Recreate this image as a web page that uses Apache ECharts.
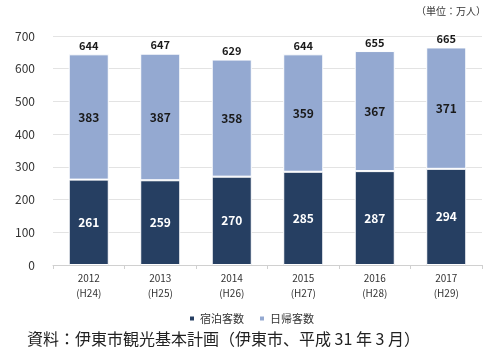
<!DOCTYPE html>
<html>
<head>
<meta charset="utf-8">
<script src="https://cdn.jsdelivr.net/npm/echarts@6/dist/echarts.min.js"></script>
<style>
  html, body { margin: 0; padding: 0; background: #fff; }
  #chart { width: 502px; height: 354px; }
</style>
</head>
<body>
<div id="chart"></div>
<script>
  const years = ['2012\n(H24)', '2013\n(H25)', '2014\n(H26)', '2015\n(H27)', '2016\n(H28)', '2017\n(H29)'];
  const stayGuests = [261, 259, 270, 285, 287, 294];
  const dayGuests = [383, 387, 358, 359, 367, 371];
  const totals = [644, 647, 629, 644, 655, 665];

  const font = '"Noto Sans CJK JP", "Noto Sans", sans-serif';
  const chart = echarts.init(document.getElementById('chart'));
  chart.setOption({
    animation: false,
    textStyle: { fontFamily: font },
    grid: { left: 53, right: 20, top: 36, bottom: 89 },
    graphic: [{
      type: 'text',
      right: 16,
      top: 6,
      style: { text: '（単位：万人）', fontSize: 10, fill: '#333', fontFamily: font }
    }, {
      type: 'text',
      left: 27,
      top: 331,
      style: { text: '資料：伊東市観光基本計画（伊東市、平成 31 年 3 月）', fontSize: 16, fill: '#222', fontFamily: font }
    }],
    legend: {
      bottom: 25,
      left: 'center',
      itemWidth: 6,
      itemHeight: 6,
      itemGap: 14,
      icon: 'rect',
      textStyle: { fontSize: 11, color: '#333' },
      data: ['宿泊客数', '日帰客数']
    },
    xAxis: {
      type: 'category',
      data: years,
      axisLine: { lineStyle: { color: '#d0d0d0' } },
      axisTick: { show: true, length: 4, lineStyle: { color: '#d0d0d0' } },
      axisLabel: { fontSize: 10, color: '#333', lineHeight: 15, margin: 6 }
    },
    yAxis: {
      type: 'value',
      min: 0,
      max: 700,
      interval: 100,
      axisLine: { show: false },
      axisTick: { show: false },
      splitLine: { lineStyle: { color: '#e3e3e3' } },
      axisLabel: { fontSize: 12, color: '#333', margin: 18 }
    },
    series: [{
      name: '宿泊客数',
      type: 'bar',
      stack: 'all',
      barWidth: '56%',
      data: stayGuests,
      itemStyle: { color: '#263f62', borderColor: '#fff', borderWidth: 1 },
      label: { show: true, position: 'inside', color: '#fff', fontWeight: 'bold', fontSize: 12 }
    }, {
      name: '日帰客数',
      type: 'bar',
      stack: 'all',
      data: dayGuests,
      itemStyle: { color: '#94a9d1', borderColor: '#fff', borderWidth: 1 },
      label: { show: true, position: 'inside', color: '#1a1a1a', fontWeight: 'bold', fontSize: 12 }
    }, {
      name: '合計',
      type: 'bar',
      stack: 'all',
      data: totals.map(() => 0),
      itemStyle: { color: 'transparent' },
      label: {
        show: true,
        position: 'top',
        distance: 3,
        color: '#1a1a1a',
        fontWeight: 'bold',
        fontSize: 11,
        formatter: p => totals[p.dataIndex]
      }
    }]
  });
</script>
</body>
</html>
